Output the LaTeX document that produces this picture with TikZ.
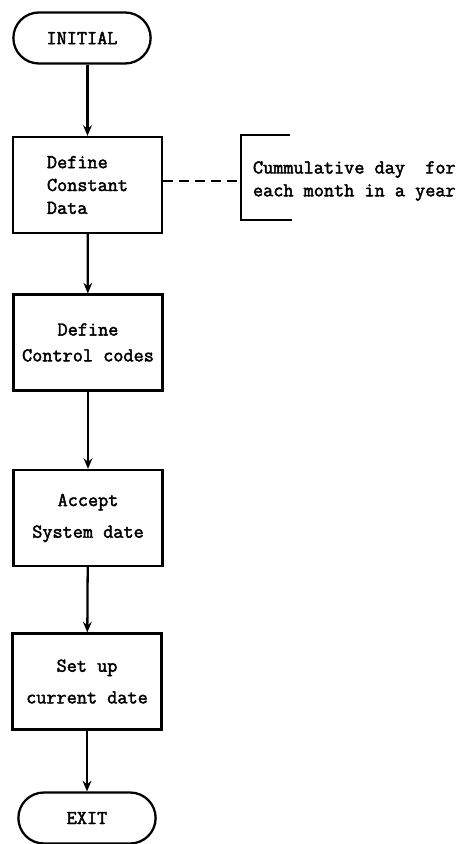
\documentclass[tikz,border=0pt]{standalone}
\usepackage{fontspec}
\newfontfamily\chartfont{Latin Modern Mono}[FakeBold=2.2]
\usetikzlibrary{shapes.misc,arrows.meta}
\begin{document}
\begin{tikzpicture}[>={Stealth[length=6pt,width=5pt]},x=0.02cm,y=-0.02cm,line width=1.3pt,
    font=\chartfont\fontsize{11.2}{13}\selectfont,
    term/.style={draw,rounded rectangle,minimum width=2.98cm,minimum height=1.02cm},
    proc/.style={draw,rectangle,minimum width=2.98cm,minimum height=1.92cm,align=center}]
    \useasboundingbox (0,0) rectangle (473,844);
    % start and end
    \node[term] (init) at (82,38) {INITIAL};
    \node[term] (exit) at (87,818) {EXIT};
    % steps
    \node[proc,align=left] (const) at (87.5,185) {Define\\Constant\\Data};
    \node[proc] (ctrl) at (88,342.5) {Define\\[1.7pt]Control codes};
    \node[proc] (sysdate) at (88,518) {Accept\\[5pt]System date};
    \node[proc] (curdate) at (87,681.5) {Set up\\[5pt]current date};
    \draw[->] (init.south -| const.north) -- (const.north);
    \draw[->] (const) -- (ctrl);
    \draw[->] (ctrl) -- (sysdate);
    \draw[->] (sysdate) -- (curdate);
    \draw[->] (curdate.south) -- (exit.north -| curdate.south);
    % comment bracket
    \coordinate (bracket) at (241,181);
    \node[anchor=west,align=left] (note) at (246,181)
        {Cummulative day\ \ for\\each month in a year};
    \draw (290,135) -- (241,135) -- (241,220) -- (292,220);
    \draw[dash pattern=on 5.7pt off 3.4pt] (const.east |- bracket) -- (bracket);
\end{tikzpicture}
\end{document}
